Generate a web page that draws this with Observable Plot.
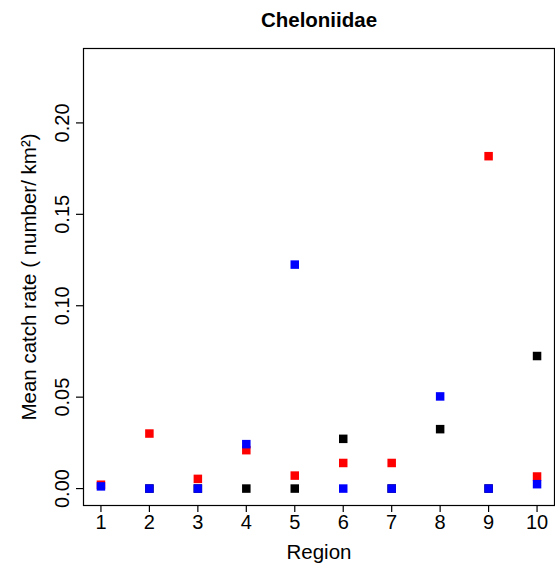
<!DOCTYPE html>
<html>
<head>
<meta charset="utf-8">
<script src="https://cdn.jsdelivr.net/npm/d3@7"></script>
<script src="https://cdn.jsdelivr.net/npm/@observablehq/plot@0.6"></script>
<style>
  html, body { margin: 0; padding: 0; background: #fff; }
  svg { display: block; }
</style>
</head>
<body>
<div id="chart"></div>
<script>
const title = "Cheloniidae";
const xLabel = "Region";
const yLabel = "Mean catch rate ( number/ km\u00B2)";
const regions = [1, 2, 3, 4, 5, 6, 7, 8, 9, 10];
const seriesBlack = [null, 0, 0, 0, 0, 0.0272, 0, 0.0325, 0, 0.0725];
const seriesRed   = [0.0021, 0.0301, 0.0053, 0.0210, 0.0071, 0.0140, 0.0140, null, 0.1818, 0.0066];
const seriesBlue  = [0.0012, 0, 0, 0.0243, 0.1225, 0, 0, 0.0504, 0, 0.0024];
const yTicks = [0, 0.05, 0.10, 0.15, 0.20];
const xTicks = regions;

const series = [
  {name: "black", color: "#000000", values: seriesBlack},
  {name: "red", color: "#ff0000", values: seriesRed},
  {name: "blue", color: "#0000ff", values: seriesBlue}
];
const points = series.flatMap(s => regions.map((r, i) => ({region: r, value: s.values[i], color: s.color})))
  .filter(d => d.value != null);

const font = "'Liberation Sans', Arial, sans-serif";

const chart = Plot.plot({
  width: 555,
  height: 567,
  marginLeft: 83,
  marginRight: 1,
  marginTop: 48,
  marginBottom: 62,
  style: {fontFamily: font, fontSize: "20px", color: "#000", background: "#fff"},
  x: {domain: [0.64, 10.36]},
  y: {domain: [-0.00926, 0.2407]},
  marks: [
    Plot.frame({stroke: "#000", strokeWidth: 1.2}),
    Plot.axisX({ticks: xTicks, tickSize: 7, tickPadding: 2, tickFormat: d => String(d), label: null, fontSize: 20, stroke: "#000", strokeWidth: 1.2}),
    Plot.axisY({ticks: yTicks, tickSize: 7, tickPadding: 8, tickRotate: -90, tickFormat: d3.format(".2f"), label: null, fontSize: 20, stroke: "#000", strokeWidth: 1.2}),
    Plot.dot(points, {x: "region", y: "value", fill: d => d.color, symbol: "square", r: 4.8, stroke: null}),
    Plot.text([title], {frameAnchor: "top", dy: -28, text: d => d, fontWeight: "bold", fontSize: 20.5, textAnchor: "middle", lineAnchor: "middle"}),
    Plot.text([xLabel], {frameAnchor: "bottom", dy: 47, text: d => d, fontSize: 20.5, textAnchor: "middle", lineAnchor: "middle"}),
    Plot.text([yLabel], {frameAnchor: "left", dx: -54, rotate: -90, text: d => d, fontSize: 20.5, textAnchor: "middle", lineAnchor: "middle"})
  ]
});
document.getElementById("chart").appendChild(chart);
</script>
</body>
</html>
